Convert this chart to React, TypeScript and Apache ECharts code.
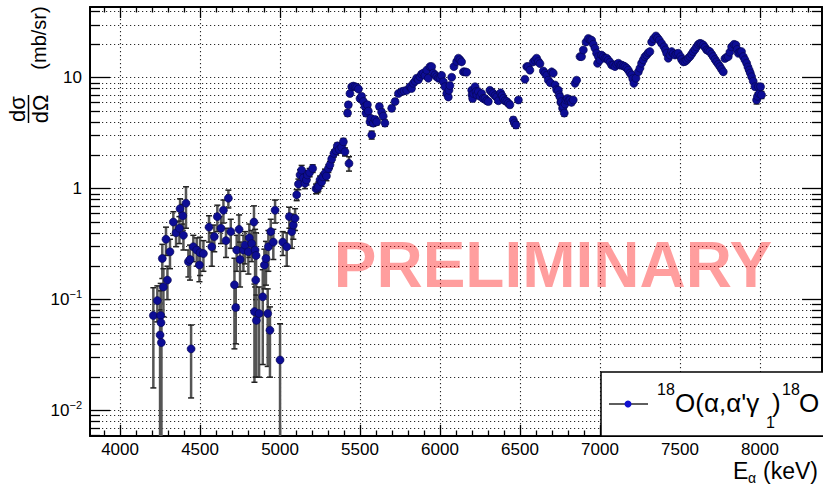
import React, { useEffect, useRef } from "react";
import * as echarts from "echarts";

// Alpha energy (keV)
const energy = [
  4208, 4233, 4250, 4254, 4256, 4258, 4264, 4271, 4287, 4296,
  4312, 4333, 4350, 4371, 4375, 4392, 4396, 4412, 4427, 4437,
  4444, 4458, 4479, 4496, 4500, 4521, 4556, 4573, 4589, 4608,
  4631, 4646, 4662, 4677, 4692, 4715, 4723, 4729, 4744, 4750,
  4771, 4781, 4802, 4808, 4823, 4837, 4840, 4844, 4848, 4850,
  4852, 4869, 4892, 4902, 4912, 4923, 4927, 4937, 4942, 4958,
  4969, 5000, 5017, 5042, 5058, 5073, 5083, 5094, 5104, 5115,
  5125, 5135, 5146, 5156, 5165, 5171, 5185, 5204, 5225, 5235,
  5240, 5250, 5260, 5267, 5281, 5290, 5302, 5312, 5323, 5337,
  5350, 5358, 5370, 5385, 5396, 5406, 5422, 5427, 5431, 5437,
  5448, 5458, 5469, 5479, 5490, 5500, 5510, 5521, 5531, 5537,
  5546, 5552, 5562, 5567, 5573, 5583, 5594, 5604, 5621, 5635,
  5645, 5656, 5698, 5719, 5740, 5760, 5775, 5792, 5812, 5822,
  5833, 5844, 5854, 5865, 5875, 5885, 5896, 5906, 5917, 5927,
  5937, 5948, 5958, 5969, 5979, 5990, 6000, 6010, 6021, 6031,
  6042, 6052, 6056, 6062, 6073, 6087, 6104, 6115, 6125, 6135,
  6146, 6156, 6167, 6198, 6200, 6204, 6210, 6219, 6225, 6230,
  6240, 6250, 6260, 6270, 6281, 6292, 6302, 6312, 6323, 6333,
  6344, 6354, 6365, 6379, 6388, 6396, 6406, 6417, 6427, 6437,
  6458, 6465, 6475, 6490, 6531, 6542, 6552, 6562, 6583, 6594,
  6604, 6615, 6625, 6646, 6656, 6667, 6677, 6690, 6698, 6708,
  6719, 6729, 6740, 6745, 6750, 6755, 6760, 6766, 6771, 6777,
  6782, 6787, 6796, 6804, 6812, 6822, 6833, 6844, 6854, 6875,
  6885, 6896, 6913, 6927, 6938, 6948, 6958, 6969, 6979, 6985,
  6990, 7000, 7010, 7021, 7031, 7042, 7052, 7063, 7073, 7084,
  7094, 7104, 7115, 7125, 7135, 7146, 7156, 7167, 7177, 7188,
  7198, 7205, 7212, 7225, 7240, 7250, 7260, 7271, 7281, 7292,
  7302, 7312, 7323, 7335, 7350, 7360, 7371, 7385, 7400, 7410,
  7417, 7427, 7438, 7448, 7458, 7469, 7479, 7490, 7504, 7510,
  7521, 7531, 7542, 7552, 7562, 7573, 7583, 7594, 7604, 7615,
  7625, 7635, 7646, 7656, 7667, 7677, 7687, 7698, 7708, 7719,
  7729, 7740, 7750, 7760, 7771, 7781, 7792, 7802, 7812, 7823,
  7838, 7850, 7858, 7865, 7875, 7885, 7896, 7906, 7917, 7925,
  7933, 7940, 7948, 7958, 7969, 7979, 7985, 7990, 7996, 8004,
  8010,
];

// Differential cross section (mb/sr)
const xsec = [
  0.072, 0.098, 0.048, 0.072, 0.062, 0.041, 0.235, 0.13, 0.35, 0.15,
  0.27, 0.5, 0.4, 0.44, 0.66, 0.57, 0.38, 0.74, 0.22, 0.23,
  0.036, 0.3, 0.28, 0.205, 0.265, 0.26, 0.45, 0.3, 0.37, 0.56,
  0.44, 0.64, 0.34, 0.82, 0.41, 0.136, 0.085, 0.28, 0.43, 0.23,
  0.28, 0.31, 0.27, 0.36, 0.32, 0.5, 0.078, 0.28, 0.15, 0.25,
  0.065, 0.075, 0.106, 0.205, 0.235, 0.075, 0.3, 0.053, 0.41, 0.33,
  0.64, 0.0286, 0.33, 0.3, 0.56, 0.41, 0.47, 0.54, 0.88, 1.1,
  1.33, 1.47, 1.25, 1.12, 1.2, 1.33, 1.4, 1.52, 1.0, 1.02,
  1.05, 1.2, 1.15, 1.28, 1.38, 1.3, 1.52, 1.64, 1.85, 2.08,
  2.2, 2.43, 2.25, 2.36, 2.65, 2.15, 4.8, 5.7, 1.69, 7.2,
  8.3, 8.4, 8.3, 8.2, 7.9, 6.5, 6.8, 6.1, 5.5, 4.8,
  5.7, 5.0, 4.0, 4.3, 3.05, 3.9, 4.2, 4.0, 5.5, 4.9,
  4.5, 3.9, 5.3, 6.1, 7.2, 7.5, 7.6, 7.7, 8.3, 8.0,
  8.9, 9.3, 9.9, 9.6, 10.2, 10.8, 11.0, 10.5, 11.7, 9.9,
  12.6, 12.6, 11.0, 10.6, 10.2, 9.9, 9.9, 10.5, 9.2, 8.3,
  7.2, 6.7, 7.7, 8.5, 10.1, 12.6, 14.0, 15.0, 14.5, 13.9,
  11.3, 11.3, 11.2, 7.7, 7.0, 6.5, 7.2, 8.3, 7.5, 7.0,
  7.5, 6.8, 7.2, 6.5, 6.5, 6.2, 6.1, 7.7, 7.4, 7.2,
  6.9, 6.7, 6.2, 7.3, 6.9, 6.5, 6.2, 6.1, 5.9, 5.7,
  4.16, 3.9, 3.75, 6.3, 9.7, 12.6, 12.6, 11.7, 13.9, 14.4,
  15.0, 14.0, 13.4, 11.5, 11.0, 10.5, 9.5, 9.0, 11.3, 11.0,
  8.6, 7.8, 7.7, 7.0, 6.7, 6.0, 6.1, 5.3, 5.5, 4.8,
  5.8, 6.3, 6.5, 6.2, 6.3, 6.0, 6.3, 8.9, 9.5, 15.5,
  15.5, 17.8, 21.0, 22.6, 22.0, 21.8, 20.0, 18.4, 16.6, 13.5,
  15.5, 14.4, 16.0, 15.5, 15.0, 15.0, 14.4, 13.8, 13.0, 13.0,
  12.6, 13.2, 13.5, 13.0, 13.0, 12.8, 12.6, 12.2, 11.7, 11.0,
  10.6, 9.8, 8.9, 9.9, 11.3, 12.2, 13.5, 14.5, 15.5, 16.0,
  16.8, 17.2, 21.0, 22.5, 23.8, 22.8, 21.8, 20.4, 19.0, 17.8,
  16.6, 15.0, 16.0, 17.2, 16.5, 16.0, 16.4, 16.6, 15.5, 14.6,
  13.9, 14.0, 14.4, 15.0, 15.5, 16.3, 17.2, 18.0, 19.0, 20.0,
  20.4, 20.2, 19.7, 18.8, 17.8, 17.5, 17.2, 16.3, 15.5, 14.6,
  13.9, 13.2, 12.6, 11.9, 11.3, 14.9, 15.3, 15.5, 17.0, 19.0,
  20.0, 19.7, 18.0, 16.6, 17.0, 17.2, 15.5, 14.5, 13.5, 12.5,
  11.7, 11.0, 10.2, 9.3, 8.3, 6.3, 6.8, 8.3, 7.2, 8.3,
  7.0,
];

// Statistical uncertainty (mb/sr)
const xsecErr = [
  0.056, 0.035, 0.045, 0.068, 0.058, 0.04, 0.08, 0.06, 0.1, 0.05,
  0.08, 0.12, 0.1, 0.12, 0.15, 0.15, 0.1, 0.3, 0.06, 0.08,
  0.023, 0.08, 0.08, 0.06, 0.1, 0.08, 0.12, 0.1, 0.1, 0.15,
  0.12, 0.15, 0.1, 0.15, 0.12, 0.1, 0.045, 0.1, 0.15, 0.1,
  0.1, 0.1, 0.1, 0.12, 0.1, 0.2, 0.06, 0.15, 0.13, 0.15,
  0.045, 0.055, 0.08, 0.08, 0.1, 0.05, 0.12, 0.033, 0.12, 0.1,
  0.15, 0.032, 0.08, 0.1, 0.12, 0.12, 0.12, 0.12, 0.1, 0.12,
  0.15, 0.15, 0.12, 0.12, 0.12, 0.12, 0.12, 0.12, 0.1, 0.1,
  0.1, 0.1, 0.1, 0.1, 0.12, 0.12, 0.12, 0.12, 0.12, 0.15,
  0.15, 0.15, 0.15, 0.15, 0.18, 0.18, 0.3, 0.3, 0.25, 0.3,
  0.3, 0.3, 0.3, 0.3, 0.3, 0.3, 0.3, 0.3, 0.3, 0.3,
  0.3, 0.3, 0.25, 0.25, 0.25, 0.25, 0.25, 0.25, 0.3, 0.3,
  0.3, 0.25, 0.3, 0.3, 0.3, 0.3, 0.3, 0.3, 0.3, 0.3,
  0.35, 0.35, 0.35, 0.35, 0.4, 0.4, 0.4, 0.4, 0.4, 0.4,
  0.45, 0.45, 0.4, 0.4, 0.4, 0.4, 0.4, 0.4, 0.35, 0.35,
  0.3, 0.3, 0.3, 0.35, 0.4, 0.45, 0.5, 0.5, 0.5, 0.5,
  0.4, 0.4, 0.4, 0.3, 0.3, 0.3, 0.3, 0.3, 0.3, 0.3,
  0.3, 0.3, 0.3, 0.3, 0.3, 0.3, 0.3, 0.3, 0.3, 0.3,
  0.3, 0.3, 0.3, 0.3, 0.3, 0.3, 0.3, 0.3, 0.3, 0.3,
  0.25, 0.25, 0.25, 0.3, 0.4, 0.45, 0.45, 0.45, 0.5, 0.5,
  0.5, 0.5, 0.5, 0.45, 0.45, 0.4, 0.4, 0.4, 0.45, 0.45,
  0.35, 0.35, 0.35, 0.3, 0.3, 0.3, 0.3, 0.3, 0.3, 0.3,
  0.3, 0.3, 0.3, 0.3, 0.3, 0.3, 0.3, 0.35, 0.4, 0.5,
  0.5, 0.6, 0.7, 0.7, 0.7, 0.7, 0.7, 0.6, 0.6, 0.5,
  0.5, 0.5, 0.5, 0.5, 0.5, 0.5, 0.5, 0.5, 0.5, 0.5,
  0.45, 0.5, 0.5, 0.5, 0.5, 0.45, 0.45, 0.45, 0.45, 0.4,
  0.4, 0.4, 0.35, 0.4, 0.45, 0.45, 0.5, 0.5, 0.5, 0.5,
  0.6, 0.6, 0.7, 0.7, 0.8, 0.7, 0.7, 0.7, 0.6, 0.6,
  0.6, 0.5, 0.5, 0.6, 0.6, 0.5, 0.6, 0.6, 0.5, 0.5,
  0.5, 0.5, 0.5, 0.5, 0.5, 0.6, 0.6, 0.6, 0.6, 0.7,
  0.7, 0.7, 0.7, 0.6, 0.6, 0.6, 0.6, 0.6, 0.5, 0.5,
  0.5, 0.5, 0.45, 0.45, 0.45, 0.5, 0.5, 0.5, 0.6, 0.6,
  0.7, 0.7, 0.6, 0.6, 0.6, 0.6, 0.5, 0.5, 0.5, 0.45,
  0.45, 0.4, 0.4, 0.4, 0.35, 0.5, 0.5, 0.5, 0.5, 0.5,
  0.5,
];

const xMajorTicks = [4000, 4500, 5000, 5500, 6000, 6500, 7000, 7500, 8000];
const xMinorTicks = [
  3900, 4100, 4200, 4300, 4400, 4600, 4700, 4800, 4900, 5100, 5200, 5300, 5400,
  5600, 5700, 5800, 5900, 6100, 6200, 6300, 6400, 6600, 6700, 6800, 6900, 7100,
  7200, 7300, 7400, 7600, 7700, 7800, 7900, 8100, 8200, 8300,
];
const yMajorTicks = [0.01, 0.1, 1, 10];
const yMinorTicks = [
  0.006, 0.007, 0.008, 0.009, 0.02, 0.03, 0.04, 0.05, 0.06, 0.07, 0.08, 0.09,
  0.2, 0.3, 0.4, 0.5, 0.6, 0.7, 0.8, 0.9, 2, 3, 4, 5, 6, 7, 8, 9, 20, 30, 40,
];

const X_MIN = 3812;
const X_MAX = 8388;
const Y_MIN = 0.0059;
const Y_MAX = 43.4;

const FONT = '"Liberation Sans", Arial, Helvetica, sans-serif';
const GRID_LINE = { show: true, lineStyle: { color: "#2a2a2a", width: 1.1, type: [1.2, 2.8] as any } };

function xAxisDef(position: "top" | "bottom", major: boolean) {
  const ticks = major ? xMajorTicks : xMinorTicks;
  return {
    type: "value",
    gridIndex: 0,
    position,
    min: X_MIN,
    max: X_MAX,
    axisLine: { show: major, onZero: false, lineStyle: { color: "#000", width: 2 } },
    axisTick: {
      show: true,
      inside: true,
      length: major ? 11 : 5.5,
      customValues: ticks,
      lineStyle: { color: "#000", width: 1.3 },
    },
    axisLabel: {
      show: major && position === "bottom",
      customValues: ticks,
      formatter: (v: number) => String(Math.round(v)),
      fontSize: 17,
      fontFamily: FONT,
      color: "#000",
      margin: 5,
    },
    splitLine: major && position === "bottom" ? { ...GRID_LINE, customValues: ticks } : { show: false },
  };
}

function yAxisDef(position: "left" | "right", major: boolean) {
  const ticks = major ? yMajorTicks : yMinorTicks;
  return {
    type: "log",
    logBase: 10,
    gridIndex: 0,
    position,
    min: Y_MIN,
    max: Y_MAX,
    axisLine: { show: major, onZero: false, lineStyle: { color: "#000", width: 2 } },
    axisTick: {
      show: true,
      inside: true,
      length: major ? 20 : 10,
      customValues: ticks,
      lineStyle: { color: "#000", width: 1.3 },
    },
    axisLabel: {
      show: major && position === "left",
      customValues: ticks,
      margin: 8,
      formatter: (v: number) => {
        const p = Math.round(Math.log10(v));
        if (p === 0) return "{b|1}";
        if (p === 1) return "{b|10}";
        return "{b|10}{e|\u2212" + -p + "}";
      },
      rich: {
        b: { fontSize: 17, lineHeight: 22, fontFamily: FONT, color: "#000" },
        e: { fontSize: 11, lineHeight: 14, verticalAlign: "top", fontFamily: FONT, color: "#000" },
      },
    },
    splitLine: position === "left" ? { ...GRID_LINE, customValues: ticks } : { show: false },
  };
}

function label(text: string, x: number, y: number, size: number, extra: any = {}) {
  return {
    type: "text",
    z: 62,
    x,
    y,
    ...extra,
    style: {
      text,
      font: `${size}px ${FONT}`,
      fill: "#000",
      align: extra.align || "left",
      verticalAlign: "middle",
    },
  };
}

export default function App() {
  const ref = useRef<HTMLDivElement>(null);

  useEffect(() => {
    if (!ref.current) return;
    const chart = echarts.init(ref.current, null, { renderer: "svg" });
    const points = energy.map((e, i) => [e, xsec[i], xsecErr[i]]);

    const option: any = {
      animation: false,
      backgroundColor: "#fff",
      grid: { left: 90, top: 7, width: 732, height: 429, containLabel: false, outerBoundsMode: "none" },
      xAxis: [
        xAxisDef("bottom", true),
        xAxisDef("bottom", false),
        xAxisDef("top", true),
        xAxisDef("top", false),
      ],
      yAxis: [
        yAxisDef("left", true),
        yAxisDef("left", false),
        yAxisDef("right", true),
        yAxisDef("right", false),
      ],
      series: [
        {
          type: "custom",
          name: "errors",
          xAxisIndex: 0,
          yAxisIndex: 0,
          encode: { x: 0, y: 1 },
          data: points,
          z: 3,
          renderItem: (params: any, api: any) => {
            const x = api.value(0);
            const v = api.value(1);
            const e = api.value(2);
            const hiV = Math.min(v + e, Y_MAX);
            const loRaw = v - e;
            const clamped = loRaw <= Y_MIN;
            const loV = clamped ? Y_MIN : loRaw;
            const pH = api.coord([x, hiV]);
            const pL = api.coord([x, loV]);
            const children: any[] = [
              {
                type: "line",
                shape: { x1: pH[0], y1: pH[1], x2: pL[0], y2: pL[1] },
                style: { stroke: "#555", lineWidth: 2.5 },
              },
              {
                type: "line",
                shape: { x1: pH[0] - 3, y1: pH[1], x2: pH[0] + 3, y2: pH[1] },
                style: { stroke: "#222", lineWidth: 1.5 },
              },
            ];
            if (!clamped) {
              children.push({
                type: "line",
                shape: { x1: pL[0] - 3, y1: pL[1], x2: pL[0] + 3, y2: pL[1] },
                style: { stroke: "#222", lineWidth: 1.5 },
              });
            }
            return { type: "group", children };
          },
        },
        {
          type: "scatter",
          name: "18O(a,a'g1)18O",
          xAxisIndex: 0,
          yAxisIndex: 0,
          data: points.map((p) => [p[0], p[1]]),
          symbol: "circle",
          symbolSize: 8,
          z: 4,
          itemStyle: { color: "#0d0d95", borderColor: "#05054a", borderWidth: 0.6, opacity: 1 },
        },
      ],
      graphic: [
        // Y axis title: d sigma / d Omega (mb/sr)
        label("d\u03c3", 17, 109, 22, { rotation: Math.PI / 2, align: "center" }),
        {
          type: "line",
          shape: { x1: 28.5, y1: 95, x2: 28.5, y2: 123 },
          style: { stroke: "#000", lineWidth: 1.5 },
        },
        label("d\u03a9", 40, 109, 22, { rotation: Math.PI / 2, align: "center" }),
        label("(mb/sr)", 39, 38, 20, { rotation: Math.PI / 2, align: "center" }),
        // X axis title: E_alpha (keV)
        label("E", 733, 471, 23),
        label("\u03b1", 748, 478, 14),
        label("(keV)", 763, 471, 23),
        // PRELIMINARY watermark
        {
          type: "text",
          x: 553,
          y: 265,
          z: 50,
          style: {
            text: "PRELIMINARY",
            font: `bold 64px ${FONT}`,
            fill: "rgba(255,0,0,0.38)",
            align: "center",
            verticalAlign: "middle",
          },
        },
        // Legend box
        {
          type: "rect",
          z: 60,
          shape: { x: 601, y: 372, width: 240, height: 64 },
          style: { fill: "#fff", stroke: "#000", lineWidth: 1.5 },
        },
        {
          type: "line",
          z: 61,
          shape: { x1: 609, y1: 404, x2: 648, y2: 404 },
          style: { stroke: "#5e5e5e", lineWidth: 2 },
        },
        {
          type: "circle",
          z: 62,
          shape: { cx: 628, cy: 404, r: 3.5 },
          style: { fill: "#1010d0" },
        },
        label("18", 657, 389, 16),
        label("O(\u03b1,\u03b1'\u03b3", 675, 403, 26),
        label("1", 766, 422, 16),
        label(")", 772, 403, 26),
        label("18", 782, 389, 16),
        label("O", 799, 403, 26),
      ],
    };

    chart.setOption(option);
    return () => chart.dispose();
  }, []);

  return (
    <div
      ref={ref}
      style={{ position: "fixed", left: 0, top: 0, width: 823, height: 487, background: "#fff" }}
    />
  );
}
